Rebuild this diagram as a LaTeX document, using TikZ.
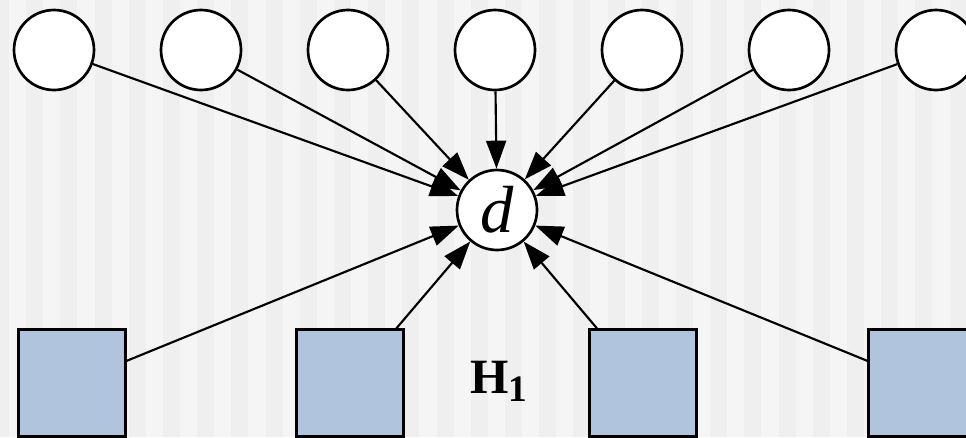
\documentclass[tikz,border=0pt]{standalone}
\usepackage{fontspec}
\setmainfont{Liberation Serif}
\usetikzlibrary{arrows.meta}
\definecolor{stripedark}{HTML}{EFEFEF}
\definecolor{stripelight}{HTML}{F5F5F5}
\definecolor{boxfill}{HTML}{B0C4DE}
\tikzset{
  var/.style={circle,draw,fill=white,line width=2pt,minimum size=60pt,inner sep=0pt},
  hidden/.style={rectangle,draw,fill=boxfill,line width=2pt,minimum size=80pt,inner sep=0pt},
  link/.style={line width=1.6pt,-{Triangle[length=21pt,width=15pt]}}
}
\begin{document}
\begin{tikzpicture}[x=0.75pt,y=-0.75pt]
\useasboundingbox (0,0) rectangle (966,437);
\clip (0,0) rectangle (966,437);
% background stripes
\fill[stripedark] (0,0) rectangle (966,437);
\foreach \k in {0,...,28}
  \fill[stripelight] (9+34.2*\k,0) rectangle (26.1+34.2*\k,437);
% nodes
\node[var] (d) at (497,210) {\fontsize{50}{50}\selectfont\itshape d};
\node[var] (c1) at (54,50) {};
\node[var] (c2) at (201,50) {};
\node[var] (c3) at (348,50) {};
\node[var] (c4) at (495,50) {};
\node[var] (c5) at (642,50) {};
\node[var] (c6) at (789,50) {};
\node[var] (c7) at (936,50) {};
\node[hidden] (s1) at (72,383) {};
\node[hidden] (s2) at (350,383) {};
\node[hidden] (s3) at (643,383) {};
\node[hidden] (s4) at (922,383) {};
\node[anchor=base] (h) at (499,393)
  {\fontsize{37}{37}\selectfont\bfseries H\raisebox{-6pt}{\fontsize{28}{28}\selectfont 1}};
% connectors
\draw[link] (c1) -- (d);
\draw[link] (c2) -- (d);
\draw[link] (c3) -- (d);
\draw[link] (c4) -- (d);
\draw[link] (c5) -- (d);
\draw[link] (c6) -- (d);
\draw[link] (c7) -- (d);
\draw[link] (s1) -- (d);
\draw[link] (s2) -- (d);
\draw[link] (s3) -- (d);
\draw[link] (s4) -- (d);
\end{tikzpicture}
\end{document}
